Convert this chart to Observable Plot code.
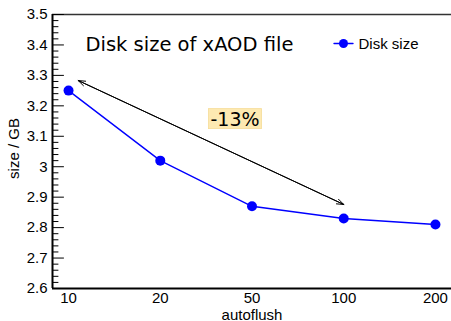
<!DOCTYPE html>
<html><head><meta charset="utf-8">
<script src="https://cdn.jsdelivr.net/npm/d3@7"></script>
<script src="https://cdn.jsdelivr.net/npm/@observablehq/plot@0.6"></script>
<style>
html,body{margin:0;padding:0;background:#fff}
#chart svg{display:block}
</style>
</head><body><div id="chart"></div>
<script>
// ---- data ----
const autoflush = ["10", "20", "50", "100", "200"];
const sizeGB = [3.25, 3.02, 2.87, 2.83, 2.81];
const yTicks = [2.6, 2.7, 2.8, 2.9, 3.0, 3.1, 3.2, 3.3, 3.4, 3.5];
const yMinorStep = 0.02;
const xDomain = [-0.175, 4.175];
const yDomain = [2.6, 3.5];
const arrowStart = {x: 0.106, y: 3.283};
const arrowEnd = {x: 3.0, y: 2.876};
const pctLabel = [{text: "-13%", x: 1.815, y: 3.155}];
const titleText = "Disk size of xAOD file";
const legendLabel = "Disk size";
const xLabel = "autoflush";
const yLabel = "size / GB";

const data = autoflush.map((a, i) => ({i, label: a, size: sizeGB[i]}));
const yMinor = d3.range(Math.round((yDomain[1] - yDomain[0]) / yMinorStep) + 1)
  .map(k => +(yDomain[0] + k * yMinorStep).toFixed(2))
  .filter(v => !yTicks.some(t => Math.abs(t - v) < 1e-9));

const lineShape = {draw(ctx, l) { ctx.moveTo(0, 0); ctx.lineTo(0, -l); }};
const BLUE = "#0000ff";
const SANS = "Liberation Sans, Arial, sans-serif";
const DEJAVU = "DejaVu Sans, sans-serif";

const chart = Plot.plot({
  width: 451,
  height: 321,
  marginLeft: 52,
  marginRight: 0,
  marginTop: 14,
  marginBottom: 33,
  style: {fontFamily: SANS, fontSize: "15px", color: "#000", background: "#fff"},
  x: {type: "linear", domain: xDomain, axis: null},
  y: {type: "linear", domain: yDomain, axis: null},
  marks: [
    // frame lines
    Plot.ruleY([yDomain[1]], {stroke: "#333", strokeWidth: 1.5}),
    Plot.ruleY([yDomain[0]], {stroke: "#000", strokeWidth: 2}),
    Plot.ruleX([xDomain[0]], {stroke: "#000", strokeWidth: 2}),
    // y ticks (inward)
    Plot.vector(yTicks, {x: xDomain[0], y: d => d, rotate: 90, length: 11, anchor: "start", shape: lineShape, stroke: "#000", strokeWidth: 1}),
    Plot.vector(yMinor, {x: xDomain[0], y: d => d, rotate: 90, length: 5.5, anchor: "start", shape: lineShape, stroke: "#000", strokeWidth: 1}),
    // y tick labels
    Plot.axisY(yTicks, {anchor: "left", tickSize: 0, tickPadding: 5, tickFormat: d => `${d}`, label: null, fontSize: 15}),
    // x tick labels
    Plot.axisX(autoflush.map((a, i) => i), {anchor: "bottom", tickSize: 0, tickPadding: 4, tickFormat: i => autoflush[i], label: null, fontSize: 15}),
    // axis titles
    Plot.text([xLabel], {frameAnchor: "bottom", dy: 31, lineAnchor: "bottom", fontSize: 15, fill: "#000"}),
    Plot.text([yLabel], {frameAnchor: "left", dx: -38, dy: -3, rotate: -90, lineAnchor: "middle", textAnchor: "middle", fontSize: 15, fill: "#000"}),
    // data
    Plot.line(data, {x: "i", y: "size", stroke: BLUE, strokeWidth: 1.4}),
    Plot.dot(data, {x: "i", y: "size", r: 5, fill: BLUE, stroke: "none"}),
    // double-headed arrow annotation
    Plot.arrow([{a: arrowStart, b: arrowEnd}], {x1: d => d.a.x, y1: d => d.a.y, x2: d => d.b.x, y2: d => d.b.y, stroke: "#000", strokeWidth: 1, headLength: 11, headAngle: 40}),
    Plot.arrow([{a: arrowEnd, b: arrowStart}], {x1: d => d.a.x, y1: d => d.a.y, x2: d => d.b.x, y2: d => d.b.y, stroke: "#000", strokeWidth: 1, headLength: 11, headAngle: 40}),
    // percent label
    Plot.text(pctLabel, {x: "x", y: "y", text: "text", fontSize: 19, fontFamily: DEJAVU, fill: "#000", lineAnchor: "middle", className: "pct-label"}),
    // title
    Plot.text([titleText], {frameAnchor: "top-left", dx: 33, dy: 36.5, lineAnchor: "bottom", textAnchor: "start", fontSize: 19.5, fontFamily: DEJAVU, fill: "#000"}),
    // legend
    Plot.vector([legendLabel], {frameAnchor: "top-left", dx: 291, dy: 29, rotate: 90, length: 19, anchor: "middle", shape: lineShape, stroke: BLUE, strokeWidth: 1.4}),
    Plot.dot([legendLabel], {frameAnchor: "top-left", dx: 291, dy: 29, r: 4.5, fill: BLUE, stroke: "none"}),
    Plot.text([legendLabel], {frameAnchor: "top-left", dx: 306, dy: 34.5, lineAnchor: "bottom", textAnchor: "start", fontSize: 15, fill: "#000"})
  ]
});
document.getElementById("chart").appendChild(chart);

// background box behind the percent label
chart.querySelectorAll(".pct-label text").forEach(t => {
  const bb = t.getBBox();
  const r = document.createElementNS("http://www.w3.org/2000/svg", "rect");
  r.setAttribute("x", bb.x - 2);
  r.setAttribute("y", bb.y + 1);
  r.setAttribute("width", bb.width + 4);
  r.setAttribute("height", bb.height - 2);
  r.setAttribute("fill", "#fde9b2");
  r.setAttribute("stroke", "#f6dc98");
  r.setAttribute("stroke-width", "0.8");
  if (t.getAttribute("transform")) r.setAttribute("transform", t.getAttribute("transform"));
  t.parentNode.insertBefore(r, t);
});
</script>
</body></html>
